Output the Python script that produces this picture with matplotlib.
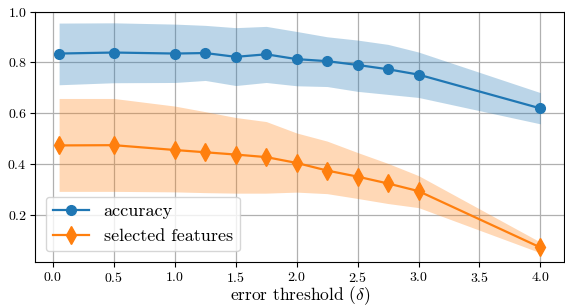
import matplotlib
matplotlib.use("Agg")
import matplotlib.pyplot as plt
import numpy as np

plt.rcParams['font.family'] = ['cmr10', 'DejaVu Serif']
plt.rcParams['mathtext.fontset'] = 'cm'
plt.rcParams['axes.formatter.use_mathtext'] = True

thresholds = [0.05, 0.5, 1.0, 1.25, 1.5, 1.75, 2.0, 2.25, 2.5, 2.75, 3.0, 4.0]
accuracy = [0.835, 0.839, 0.835, 0.837, 0.822, 0.832, 0.813, 0.805, 0.790, 0.773, 0.752, 0.619]
acc_upper = [0.955, 0.956, 0.951, 0.946, 0.937, 0.942, 0.922, 0.901, 0.888, 0.871, 0.841, 0.681]
acc_lower = [0.712, 0.720, 0.721, 0.729, 0.709, 0.721, 0.708, 0.705, 0.686, 0.674, 0.662, 0.558]
features = [0.473, 0.474, 0.455, 0.446, 0.437, 0.427, 0.404, 0.374, 0.350, 0.323, 0.293, 0.071]
feat_upper = [0.658, 0.658, 0.628, 0.606, 0.583, 0.567, 0.522, 0.490, 0.445, 0.402, 0.354, 0.092]
feat_lower = [0.292, 0.292, 0.290, 0.287, 0.285, 0.285, 0.289, 0.283, 0.264, 0.244, 0.228, 0.050]

fig = plt.figure(figsize=(5.65, 3.07), dpi=100)
ax = fig.add_axes([0.062, 0.146, 0.937, 0.816])

ax.fill_between(thresholds, acc_lower, acc_upper, color='C0', alpha=0.3, linewidth=0)
ax.fill_between(thresholds, feat_lower, feat_upper, color='C1', alpha=0.3, linewidth=0)
ax.plot(thresholds, accuracy, color='C0', marker='o', markersize=7, linewidth=1.6, label='accuracy')
ax.plot(thresholds, features, color='C1', marker='d', markersize=9, linewidth=1.6, label='selected features')

ax.set_ylim(0.013, 1.0)
ax.set_yticks([0.2, 0.4, 0.6, 0.8, 1.0])
ax.set_xticks([0.0, 0.5, 1.0, 1.5, 2.0, 2.5, 3.0, 3.5, 4.0])
ax.grid(True, color='#b0b0b0', linewidth=0.9)
ax.set_axisbelow(True)
ax.tick_params(labelsize=10, pad=2.5)
ax.set_xlabel(r'error threshold ($\delta$)', fontsize=12.5, labelpad=0)
ax.legend(loc='lower left', fontsize=13, handlelength=2.0, borderaxespad=0.6)

fig.savefig('out.png', dpi=100)
